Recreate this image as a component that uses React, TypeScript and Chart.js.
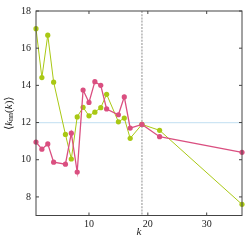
import React, { useEffect, useRef } from "react";
import { Chart, registerables } from "chart.js";

Chart.register(...registerables);

const degrees = [1, 2, 3, 4, 6, 7, 8, 9, 10, 11, 12, 13, 15, 16, 17, 19, 22, 36];
const greenValues = [17.05, 14.42, 16.7, 14.17, 11.36, 10.04, 12.3, 12.82, 12.36, 12.56, 12.8, 13.52, 12.04, 12.24, 11.15, 11.9, 11.58, 7.6];
const magentaValues = [10.95, 10.57, 10.85, 9.87, 9.76, 11.43, 9.34, 13.75, 13.08, 14.2, 14.0, 12.73, 12.42, 13.38, 11.7, 11.9, 11.24, 10.4];
const xTicks = [10, 20, 30];
const yTicks = [8, 10, 12, 14, 16, 18];
const refK = 19;
const refY = 12;

const GREEN = "#a9c814";
const MAGENTA = "#da4f80";
const SERIF = "'Liberation Serif', 'DejaVu Serif', serif";

const framePlugin = {
  id: "framePlugin",
  beforeDatasetsDraw(chart: any) {
    const { ctx, chartArea: a, scales } = chart;
    const x = scales.x, y = scales.y;
    ctx.save();
    // horizontal reference
    ctx.strokeStyle = "#cde5f4";
    ctx.lineWidth = 1.2;
    const py = y.getPixelForValue(refY);
    ctx.beginPath();
    ctx.moveTo(a.left, py);
    ctx.lineTo(a.right, py);
    ctx.stroke();
    // vertical dashed
    ctx.strokeStyle = "#a8a8a8";
    ctx.lineWidth = 1.3;
    ctx.setLineDash([2, 1.2]);
    const px = x.getPixelForValue(refK);
    ctx.beginPath();
    ctx.moveTo(px, a.top);
    ctx.lineTo(px, a.bottom);
    ctx.stroke();
    ctx.restore();
  },
  afterDraw(chart: any) {
    const { ctx, chartArea: a, scales } = chart;
    const x = scales.x, y = scales.y;
    ctx.save();
    ctx.strokeStyle = "#444";
    ctx.lineWidth = 1;
    ctx.strokeRect(a.left, a.top, a.right - a.left, a.bottom - a.top);
    const tl = 3;
    ctx.beginPath();
    xTicks.forEach((v) => {
      const p = x.getPixelForValue(v);
      ctx.moveTo(p, a.bottom);
      ctx.lineTo(p, a.bottom - tl);
      ctx.moveTo(p, a.top);
      ctx.lineTo(p, a.top + tl);
    });
    yTicks.forEach((v) => {
      const p = y.getPixelForValue(v);
      ctx.moveTo(a.left, p);
      ctx.lineTo(a.left + tl, p);
      ctx.moveTo(a.right, p);
      ctx.lineTo(a.right - tl, p);
    });
    ctx.stroke();

    // x title
    ctx.fillStyle = "#222";
    ctx.font = `italic 11px ${SERIF}`;
    ctx.textAlign = "center";
    ctx.textBaseline = "middle";
    ctx.fillText("k", (a.left + a.right) / 2, 232);

    // y title: ⟨k_nn(k)⟩
    const parts = [
      { t: "\u27E8", f: `11px ${SERIF}`, dy: 0 },
      { t: "k", f: `italic 11px ${SERIF}`, dy: 0 },
      { t: "nn", f: `8px ${SERIF}`, dy: 2 },
      { t: "(", f: `11px ${SERIF}`, dy: 0 },
      { t: "k", f: `italic 11px ${SERIF}`, dy: 0 },
      { t: ")", f: `11px ${SERIF}`, dy: 0 },
      { t: "\u27E9", f: `11px ${SERIF}`, dy: 0 },
    ];
    let total = 0;
    const widths = parts.map((p) => {
      ctx.font = p.f;
      const w = ctx.measureText(p.t).width;
      total += w;
      return w;
    });
    ctx.translate(9, (a.top + a.bottom) / 2);
    ctx.rotate(-Math.PI / 2);
    ctx.textAlign = "left";
    ctx.textBaseline = "middle";
    let cx = -total / 2;
    parts.forEach((p, i) => {
      ctx.font = p.f;
      ctx.fillText(p.t, cx, p.dy);
      cx += widths[i];
    });
    ctx.restore();
  },
};

export default function App() {
  const ref = useRef<HTMLCanvasElement | null>(null);
  useEffect(() => {
    if (!ref.current) return;
    const mk = (vals: number[]) => degrees.map((k, i) => ({ x: k, y: vals[i] }));
    const chart = new Chart(ref.current, {
      type: "line",
      data: {
        datasets: [
          {
            data: mk(magentaValues),
            borderColor: MAGENTA,
            backgroundColor: MAGENTA,
            borderWidth: 1.3,
            pointRadius: 2.6,
            pointBorderWidth: 0,
            tension: 0,
          },
          {
            data: mk(greenValues),
            borderColor: GREEN,
            backgroundColor: GREEN,
            borderWidth: 1,
            pointRadius: 2.6,
            pointBorderWidth: 0,
            tension: 0,
          },
        ],
      },
      options: {
        animation: false,
        responsive: false,
        devicePixelRatio: 1,
        clip: false,
        layout: { padding: { left: 0, right: 3.5, top: 7.5, bottom: 0 } },
        plugins: { legend: { display: false }, tooltip: { enabled: false } },
        scales: {
          x: {
            type: "linear",
            min: 1,
            max: 36,
            grid: { display: false, drawTicks: false },
            border: { display: false },
            ticks: { font: { family: SERIF, size: 10 }, color: "#222", padding: 3, maxRotation: 0 },
            afterBuildTicks: (s: any) => { s.ticks = xTicks.map((v) => ({ value: v })); },
            afterFit: (s: any) => { s.height = 26.5; },
          },
          y: {
            type: "linear",
            min: 7,
            max: 18,
            grid: { display: false, drawTicks: false },
            border: { display: false },
            ticks: { font: { family: SERIF, size: 10 }, color: "#222", padding: 5 },
            afterBuildTicks: (s: any) => { s.ticks = yTicks.map((v) => ({ value: v })); },
            afterFit: (s: any) => { s.width = 36; },
          },
        },
      } as any,
      plugins: [framePlugin],
    });
    return () => chart.destroy();
  }, []);
  return (
    <div style={{ position: "fixed", left: 0, top: 0, width: 246, height: 242, background: "#fff" }}>
      <canvas ref={ref} width={246} height={242} style={{ width: 246, height: 242 }} />
    </div>
  );
}
